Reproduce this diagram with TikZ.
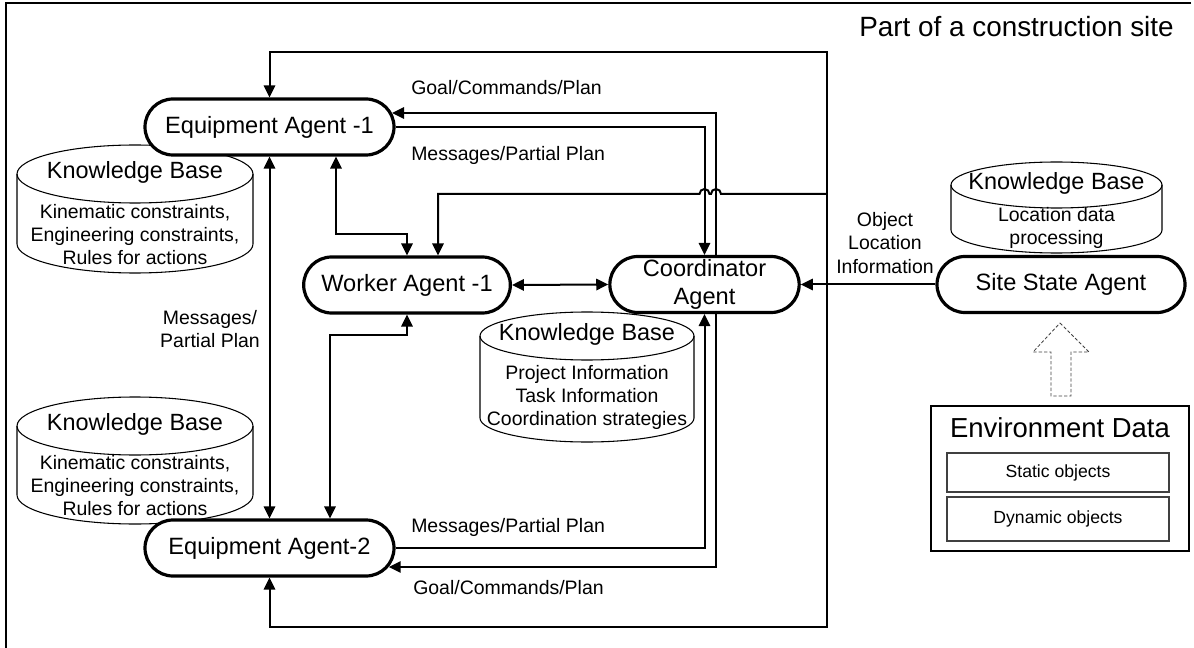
\documentclass[tikz,border=0pt]{standalone}
\usepackage{fontspec}
\setmainfont{Liberation Sans}
\usetikzlibrary{shapes.misc,arrows.meta,calc}
\begin{document}
\begin{tikzpicture}[x=0.75pt,y=-0.75pt,
  agent/.style={rounded rectangle, draw, line width=2.4pt, fill=white, minimum height=42pt, inner sep=0pt, font=\fontsize{17.7}{21}\selectfont, align=center},
  conn/.style={line width=1.5pt},
  arr/.style={conn, -{Triangle[length=9pt,width=8.5pt]}},
  dbl/.style={conn, {Triangle[length=9pt,width=8.5pt]}-{Triangle[length=9pt,width=8.5pt]}},
  kb/.style={line width=0.8pt},
  kbtitle/.style={inner sep=0pt, font=\fontsize{17.6}{21}\selectfont},
  kbbody/.style={inner sep=0pt, align=center, font=\fontsize{14.6}{17.3}\selectfont},
  lbl/.style={inner sep=0pt, align=center, font=\fontsize{14.6}{17.8}\selectfont},
  objbox/.style={draw=black!75, line width=0.8pt, minimum width=166.5pt, inner sep=0pt, font=\fontsize{13.2}{15}\selectfont},
]
\useasboundingbox (0,0) rectangle (1194,648);

% outer frame (top and left edges)
\draw[line width=2.2pt] (1191,3) -- (6,3) -- (6,648);
\node[anchor=west, inner sep=0pt, font=\fontsize{20.9}{24}\selectfont] (title) at (859,27) {Part of a construction site};

% knowledge bases (cylinders)
\draw[kb] (17,174) -- (17,244) arc[start angle=180,end angle=0,x radius=118,y radius=29] -- (253,174);
\draw[kb] (135,174) ellipse[x radius=118,y radius=29];
\node[kbtitle] (kb1t) at (135,172) {Knowledge Base};
\node[kbbody] (kb1b) at (135,234.5) {Kinematic constraints,\\Engineering constraints,\\Rules for actions};

\draw[kb] (17,426) -- (17,495) arc[start angle=180,end angle=0,x radius=118,y radius=29] -- (253,426);
\draw[kb] (135,426) ellipse[x radius=118,y radius=29];
\node[kbtitle] (kb2t) at (135,424) {Knowledge Base};
\node[kbbody] (kb2b) at (135,485.5) {Kinematic constraints,\\Engineering constraints,\\Rules for actions};

\draw[kb] (480,336) -- (480,418) arc[start angle=180,end angle=0,x radius=107,y radius=24] -- (694,336);
\draw[kb] (587,336) ellipse[x radius=107,y radius=24];
\node[kbtitle] (kb3t) at (587,334) {Knowledge Base};
\node[kbbody] (kb3b) at (587,397.5) {Project Information\\Task Information\\Coordination strategies};

\draw[kb] (951,185) -- (951,230) arc[start angle=180,end angle=0,x radius=105.5,y radius=23] -- (1162,185);
\draw[kb] (1056.5,185) ellipse[x radius=105.5,y radius=23];
\node[kbtitle] (kb4t) at (1056.5,183) {Knowledge Base};
\node[kbbody] (kb4b) at (1056.5,228) {Location data\\processing};

% agents
\node[agent, minimum width=186.75pt] (ea1) at (269.5,127) {Equipment Agent -1};
\node[agent, minimum width=186.75pt] (ea2) at (269.5,548) {Equipment Agent-2};
\node[agent, minimum width=155pt] (worker) at (407,285) {Worker Agent -1};
\node[agent, minimum width=142pt] (coord) at (704.5,284.5) {Coordinator\\Agent};
\node[agent, minimum width=186pt] (site) at (1061,284.5) {Site State Agent};

% helper coordinates
\coordinate (xg) at (716,0);
\coordinate (busTR) at (827,52);
\coordinate (busBR) at (827,627);
\coordinate (busW) at (827,194);
\coordinate (xw) at (438,0);
\coordinate (ew) at (336,234);
\coordinate (wb) at (330,335);

% bus from site state
\draw[dbl] (ea1.north) |- (busTR) -- (busBR) -| (ea2.south);
\draw[arr] (busW) -- ($(xg |- busW)+(5,0)$) arc[start angle=0,end angle=-180,radius=5]
  -- ($(coord.north |- busW)+(5,0)$) arc[start angle=0,end angle=-180,radius=5]
  -- (xw |- busW) -- (worker.north -| xw);
\draw[arr] (site.west) -- (coord.east);

% coordinator <-> equipment agents
\draw[arr] (coord.north -| xg) |- ($(ea1.east)+(-3.5,-14)$);
\draw[arr] (ea1.east) -| (coord.north);
\draw[arr] (ea2.east) -| (coord.south);
\draw[arr] (coord.south -| xg) |- ($(ea2.east)+(-6.9,19)$);

% other links
\draw[dbl] (ea1.south) -- (ea2.north);
\draw[dbl] (ea1.south -| ew) |- (worker.north |- ew) -- (worker.north);
\draw[dbl] (worker.south) |- (wb) -- (ea2.north -| wb);
\draw[dbl] (worker.east) -- (coord.west);

% labels
\node[lbl, anchor=west] (l1) at (411,88) {Goal/Commands/Plan};
\node[lbl, anchor=west] (l2) at (411,155) {Messages/Partial Plan};
\node[lbl, anchor=west] (l3) at (411,527) {Messages/Partial Plan};
\node[lbl, anchor=west] (l4) at (413,588) {Goal/Commands/Plan};
\node[lbl] (l5) at (210,329) {Messages/\\Partial Plan};
\node[lbl] (l6) at (885,243) {Object\\Location\\Information};

% environment data
\node[draw, line width=2pt, minimum width=193.5pt, minimum height=108.75pt, inner sep=0pt] (env) at (1060,478.5) {};
\node[inner sep=0pt, font=\fontsize{20.6}{24}\selectfont] (envt) at (1060,428) {Environment Data};
\node[objbox, minimum height=29.25pt] (stat) at (1058,472.5) {Static objects};
\node[objbox, minimum height=33pt] (dyn) at (1058,519) {Dynamic objects};
\draw[dashed, dash pattern=on 2.5pt off 1.5pt, line width=0.6pt, black!75] (1060,323) -- (1089,352) -- (1071,352) -- (1071,396) -- (1051,396) -- (1051,352) -- (1033,352) -- cycle;
\end{tikzpicture}
\end{document}
